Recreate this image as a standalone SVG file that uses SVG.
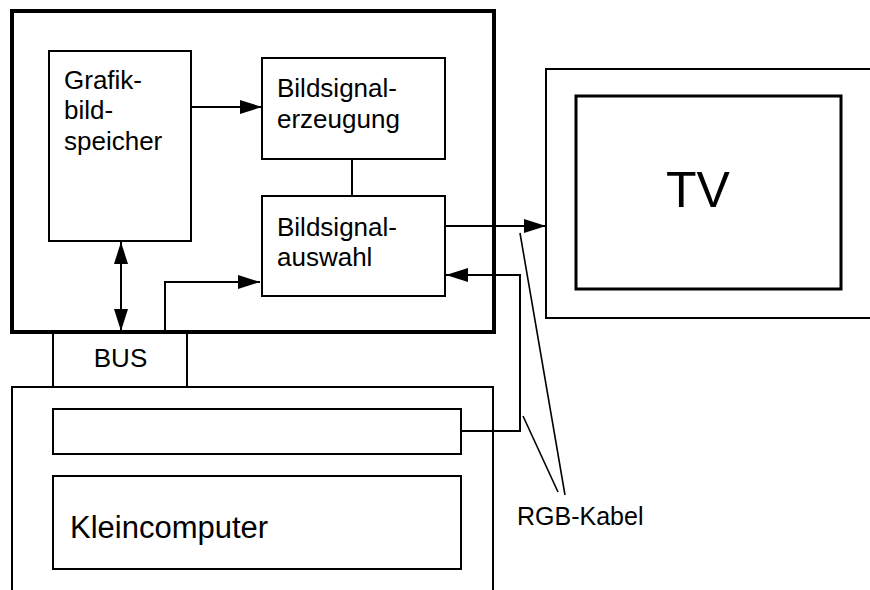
<svg xmlns="http://www.w3.org/2000/svg" width="870" height="590" viewBox="0 0 870 590">
<defs>
<style>
.box{fill:none;stroke:#000;stroke-width:2}
.thick{fill:none;stroke:#000;stroke-width:4}
.tv{fill:none;stroke:#000;stroke-width:3}
.ln{fill:none;stroke:#000;stroke-width:2}
.t{font-family:"Liberation Sans",Arial,sans-serif;font-size:26px;fill:#000}
</style>
<marker id="ah" markerUnits="userSpaceOnUse" markerWidth="23" markerHeight="15" refX="22" refY="7" orient="auto-start-reverse">
<path d="M0,0 L22,7 L0,14 z" fill="#000"/>
</marker>
</defs>
<rect width="870" height="590" fill="#fff"/>
<g id="graphics-card">
<rect class="thick" x="12" y="11" width="482" height="321"/>
</g>
<g id="grafikbildspeicher">
<rect class="box" x="49" y="51" width="142" height="190"/>
<text class="t" x="64" y="89">Grafik-</text>
<text class="t" x="64" y="119">bild-</text>
<text class="t" x="64" y="150">speicher</text>
</g>
<g id="bildsignalerzeugung">
<rect class="box" x="262" y="58" width="183" height="101"/>
<text class="t" x="277" y="97">Bildsignal-</text>
<text class="t" x="277" y="128">erzeugung</text>
</g>
<g id="bildsignalauswahl">
<rect class="box" x="262" y="196" width="183" height="100"/>
<text class="t" x="277" y="236">Bildsignal-</text>
<text class="t" x="277" y="266">auswahl</text>
</g>
<g id="bus">
<rect class="box" x="53" y="333" width="134" height="54"/>
<text class="t" x="120.5" y="367" text-anchor="middle">BUS</text>
</g>
<g id="kleincomputer-gehaeuse">
<path class="box" d="M12,592 L12,387 L493,387 L493,592"/>
</g>
<g id="steckplatz">
<rect class="box" x="53" y="409" width="408" height="45"/>
</g>
<g id="kleincomputer">
<rect class="box" x="53" y="476" width="408" height="93"/>
<text class="t" x="70" y="538" style="font-size:31px">Kleincomputer</text>
</g>
<g id="tv">
<path class="box" d="M872,69 L546,69 L546,318 L872,318"/>
<rect class="tv" x="576" y="96" width="265" height="193"/>
<text class="t" x="666" y="207" style="font-size:50px">TV</text>
</g>
<g id="connectors">
<line class="ln" x1="191" y1="107" x2="262" y2="107" marker-end="url(#ah)"/>
<line class="ln" x1="352" y1="159" x2="352" y2="196"/>
<line class="ln" x1="121" y1="242" x2="121" y2="331" marker-start="url(#ah)" marker-end="url(#ah)"/>
<path class="ln" d="M165,331 L165,282 L260,282" marker-end="url(#ah)"/>
<line class="ln" x1="445" y1="226" x2="546" y2="226" marker-end="url(#ah)"/>
<path class="ln" d="M461,431 L520,431 L520,275 L446,275" marker-end="url(#ah)"/>
<line class="ln" x1="520" y1="233" x2="565" y2="495" style="stroke-width:1.6"/>
<line class="ln" x1="523" y1="416" x2="558" y2="492" style="stroke-width:1.6"/>
</g>
<g id="label-rgb">
<text class="t" x="517" y="525" style="font-size:25px">RGB-Kabel</text>
</g>
</svg>
